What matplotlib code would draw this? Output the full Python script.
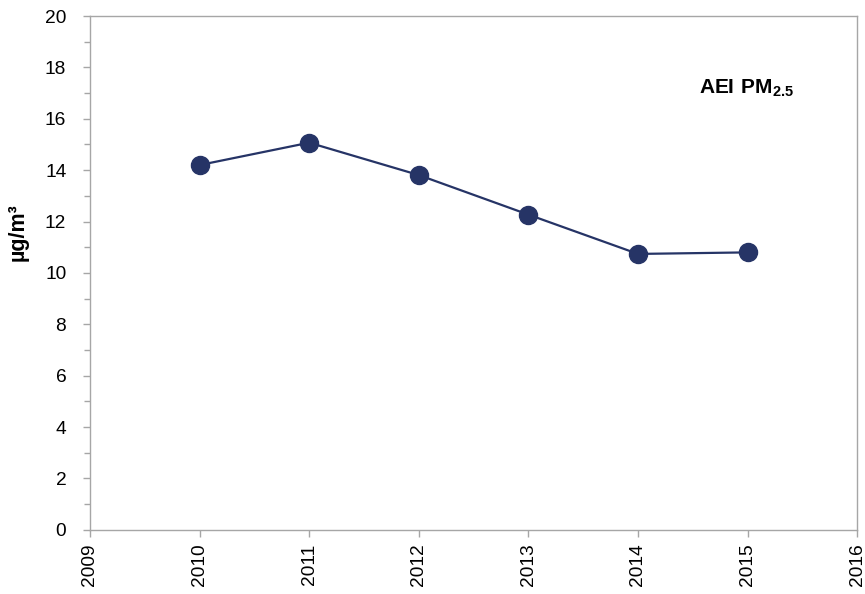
import matplotlib
matplotlib.use("Agg")
import matplotlib.pyplot as plt
from matplotlib.ticker import MultipleLocator

# Annual mean PM2.5 exposure indicator
years = [2010, 2011, 2012, 2013, 2014, 2015]
aei_pm25 = [14.2, 15.07, 13.81, 12.27, 10.74, 10.8]
x_ticks = [2009, 2010, 2011, 2012, 2013, 2014, 2015, 2016]

plt.rcParams['font.family'] = ['Liberation Sans', 'DejaVu Sans']
plt.rcParams['mathtext.fontset'] = 'custom'
plt.rcParams['mathtext.rm'] = 'Liberation Sans'
plt.rcParams['mathtext.bf'] = 'Liberation Sans:bold'

fig = plt.figure(figsize=(8.65, 5.94), dpi=100)
ax = fig.add_axes([0.104, 0.108, 0.887, 0.865])

ax.plot(years, aei_pm25, color='#263466', linewidth=1.6, marker='o',
        markersize=13, markerfacecolor='#263466', markeredgecolor='#263466')

ax.set_xlim(2009, 2016)
ax.set_ylim(0, 20)
ax.set_xticks(x_ticks)
ax.set_xticklabels([str(x) for x in x_ticks], rotation=90)
ax.yaxis.set_major_locator(MultipleLocator(2))
ax.yaxis.set_minor_locator(MultipleLocator(1))

for s in ax.spines.values():
    s.set_color('#a6a6a6')
    s.set_linewidth(1.0)
ax.tick_params(axis='both', which='both', direction='out', color='#a6a6a6',
               labelsize=13.8, width=1.0)
ax.tick_params(axis='both', which='major', length=5)
ax.tick_params(axis='y', which='minor', length=4)
ax.tick_params(axis='y', pad=12)
ax.tick_params(axis='x', pad=5)

ax.set_ylabel('µg/m³', fontsize=15.5, fontweight='bold')
ax.yaxis.set_label_coords(-0.08, 0.58)
ax.text(0.917, 0.86, r'$\mathbf{AEI\ PM_{2.5}}$', transform=ax.transAxes,
        ha='right', va='center', fontsize=15)

fig.savefig('out.png', dpi=100)
